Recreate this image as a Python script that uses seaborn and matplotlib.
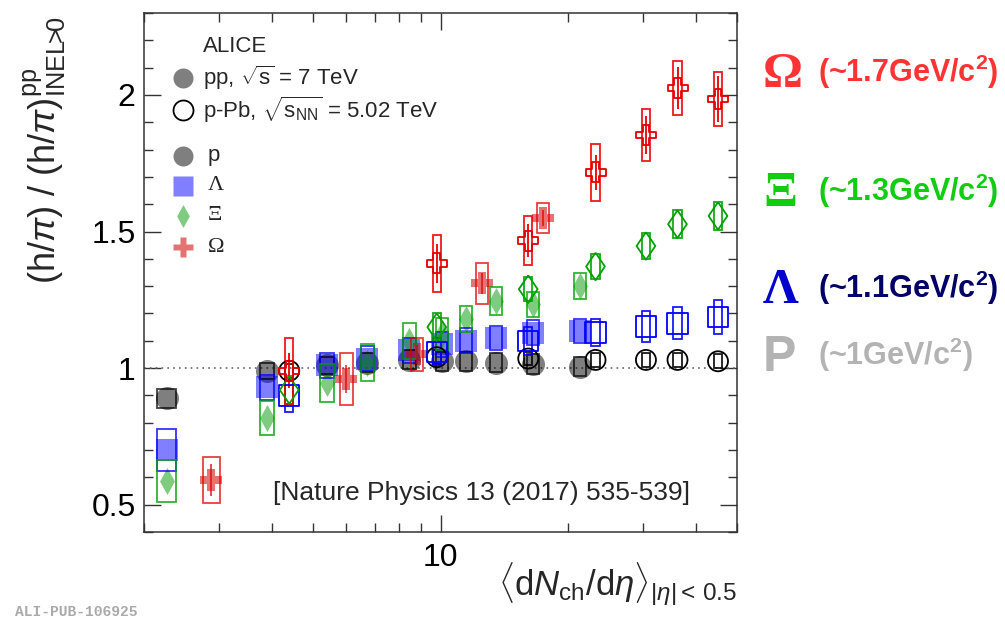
import numpy as np
import pandas as pd
import matplotlib
matplotlib.use("Agg")
import matplotlib.pyplot as plt
from matplotlib.patches import Rectangle
from matplotlib.ticker import FixedLocator, LogLocator, NullFormatter, MultipleLocator, FixedFormatter
import seaborn as sns

# ---------------- data ----------------
# pp, sqrt(s) = 7 TeV multiplicity classes
pp_mult = [2.26, 3.90, 5.40, 6.72, 8.45, 10.1, 11.5, 13.5, 16.5, 21.3]
pp_p = [0.89, 0.99, 1.01, 1.02, 1.03, 1.025, 1.025, 1.02, 1.015, 1.005]
pp_p_sys = [0.035, 0.03, 0.03, 0.035, 0.035, 0.035, 0.035, 0.035, 0.035, 0.035]
pp_lambda = [0.70, 0.93, 1.01, 1.035, 1.065, 1.087, 1.10, 1.11, 1.13, 1.136]
pp_lambda_sys = [0.076, 0.046, 0.045, 0.045, 0.045, 0.045, 0.045, 0.045, 0.045, 0.045]
pp_xi = [0.586, 0.818, 0.945, 1.02, 1.10, 1.125, 1.18, 1.245, 1.233, 1.30]
pp_xi_sys = [0.077, 0.063, 0.07, 0.069, 0.065, 0.058, 0.049, 0.052, 0.045, 0.048]
pp_omega_mult = [2.88, 6.0, 8.8, 12.5, 17.4]
pp_omega = [0.59, 0.96, 1.05, 1.31, 1.55]
pp_omega_stat = [0.06, 0.05, 0.035, 0.04, 0.03]
pp_omega_sys = [0.085, 0.095, 0.06, 0.076, 0.055]

# p-Pb, sqrt(s_NN) = 5.02 TeV multiplicity classes
ppb_mult = [4.4, 9.8, 16.1, 23.2, 30.5, 36.2, 45.1]
ppb_p = [0.99, 1.04, 1.035, 1.03, 1.03, 1.03, 1.025]
ppb_p_sys = [0.025, 0.025, 0.025, 0.025, 0.025, 0.025, 0.025]
ppb_lambda = [0.90, 1.06, 1.10, 1.13, 1.152, 1.164, 1.187]
ppb_lambda_sys = [0.06, 0.05, 0.052, 0.049, 0.057, 0.058, 0.061]
ppb_xi = [0.92, 1.15, 1.289, 1.372, 1.447, 1.527, 1.557]
ppb_xi_sys = [0.05, 0.05, 0.043, 0.046, 0.048, 0.05, 0.05]
ppb_omega = [0.99, 1.383, 1.466, 1.717, 1.853, 2.025, 1.985]
ppb_omega_stat = [0.064, 0.073, 0.06, 0.064, 0.07, 0.078, 0.085]
ppb_omega_sys = [0.12, 0.105, 0.09, 0.104, 0.096, 0.10, 0.098]

y_ticks = [0.5, 1.0, 1.5, 2.0]
y_tick_labels = ["0.5", "1", "1.5", "2"]
x_ticks = [10]
x_tick_labels = ["10"]

mass_glyphs = ["\u03a9", "\u039e", "\u039b", "P"]
mass_texts = [r"(~1.7GeV/c$^{\mathbf{2}}$)", r"(~1.3GeV/c$^{\mathbf{2}}$)",
              r"(~1.1GeV/c$^{\mathbf{2}}$)", r"(~1GeV/c$^{\mathbf{2}}$)"]

# ---------------- style ----------------
sns.set_theme(style="ticks")
plt.rcParams["font.family"] = ["Liberation Sans", "DejaVu Sans"]
plt.rcParams["mathtext.fontset"] = "custom"
plt.rcParams["mathtext.rm"] = "Liberation Sans"
plt.rcParams["mathtext.it"] = "Liberation Sans:italic"
plt.rcParams["mathtext.bf"] = "Liberation Sans:bold"

W, H = 1005, 624
fig = plt.figure(figsize=(W / 100, H / 100), dpi=100)
fig.patch.set_facecolor("white")
L, R, T, B = 144, 737, 13, 532
ax = fig.add_axes([L / W, 1 - B / H, (R - L) / W, (B - T) / H])
ax.set_facecolor("white")
ax.set_xscale("log")
ax.set_xlim(2, 50)
ax.set_ylim(0.4, 2.3)

# diamond markers (thin for filled, wider for open)
diamond_thin = [(0, 1), (0.55, 0), (0, -1), (-0.55, 0), (0, 1)]
diamond_wide = [(0, 1), (0.68, 0), (0, -1), (-0.68, 0), (0, 1)]
MS = 14.4  # marker size in points

species = {
    "p": dict(marker="o", ms=MS * 1.15, open_marker="o", open_ms=MS,
              fill="black", fill_a=0.5, edge="black"),
    "lambda": dict(marker="s", ms=MS * 1.1, open_marker="s", open_ms=MS * 1.02,
                   fill="#0000ff", fill_a=0.5, edge="#0000ff"),
    "xi": dict(marker=diamond_thin, ms=MS * 1.35, open_marker=diamond_wide,
               open_ms=MS * 1.38, fill="#009900", fill_a=0.5, edge="#00a000"),
    "omega": dict(marker="P", ms=MS * 1.1, open_marker="P", open_ms=MS,
                  fill="#d00000", fill_a=0.55, edge="#e00000"),
}


def pp_halfwidth(x):
    # half width of the pp systematic boxes, in decades
    return 0.014 + 0.0095 * (2.26 / x) ** 2


def ppb_halfwidth(x):
    return 0.0100


def draw_boxes(xs, ys, sys, color, hw_fn, alpha, lw=1.3):
    for x, y, s in zip(xs, ys, sys):
        hw = hw_fn(x)
        x0, x1 = x * 10 ** (-hw), x * 10 ** hw
        ax.add_patch(Rectangle((x0, y - s), x1 - x0, 2 * s, fill=False,
                               edgecolor=color, alpha=alpha, lw=lw, zorder=4))


def draw_points(xs, ys, st, filled):
    df = pd.DataFrame({"x": xs, "y": ys})
    if filled:
        sns.scatterplot(data=df, x="x", y="y", ax=ax, marker=st["marker"],
                        s=st["ms"] ** 2, color=st["fill"], alpha=st["fill_a"],
                        linewidth=0, legend=False, zorder=3)
    else:
        sns.scatterplot(data=df, x="x", y="y", ax=ax, marker=st["open_marker"],
                        s=st["open_ms"] ** 2, facecolors="none",
                        edgecolor=st["edge"], linewidth=1.3, legend=False,
                        zorder=5)


# dotted reference line at unity
ax.axhline(1.0, color="0.4", ls=(0, (1, 2.5)), lw=1.2, zorder=1)

# protons
draw_points(pp_mult, pp_p, species["p"], True)
draw_boxes(pp_mult, pp_p, pp_p_sys, "black", pp_halfwidth, 0.75)
draw_points(ppb_mult, ppb_p, species["p"], False)
draw_boxes(ppb_mult, ppb_p, ppb_p_sys, "black", ppb_halfwidth, 0.9)

# Lambda
draw_points(pp_mult, pp_lambda, species["lambda"], True)
draw_boxes(pp_mult, pp_lambda, pp_lambda_sys, "#0000ff", pp_halfwidth, 0.8)
draw_points(ppb_mult, ppb_lambda, species["lambda"], False)
draw_boxes(ppb_mult, ppb_lambda, ppb_lambda_sys, "#0000ff", ppb_halfwidth, 0.9)

# Xi
draw_points(pp_mult, pp_xi, species["xi"], True)
draw_boxes(pp_mult, pp_xi, pp_xi_sys, "#00a000", pp_halfwidth, 0.8)
draw_points(ppb_mult, ppb_xi, species["xi"], False)
draw_boxes(ppb_mult, ppb_xi, ppb_xi_sys, "#00a000", ppb_halfwidth, 0.9)

# Omega
draw_points(pp_omega_mult, pp_omega, species["omega"], True)
draw_boxes(pp_omega_mult, pp_omega, pp_omega_sys, "#e00000", pp_halfwidth, 0.75)
ax.errorbar(pp_omega_mult, pp_omega, yerr=pp_omega_stat, fmt="none",
            ecolor="#e00000", elinewidth=1.3, alpha=0.75, capsize=0, zorder=4)
draw_points(ppb_mult, ppb_omega, species["omega"], False)
draw_boxes(ppb_mult, ppb_omega, ppb_omega_sys, "#ee0000", ppb_halfwidth, 0.9)
ax.errorbar(ppb_mult, ppb_omega, yerr=ppb_omega_stat, fmt="none",
            ecolor="#ee0000", elinewidth=1.3, capsize=0, zorder=4)

# ---------------- axes ----------------
ax.xaxis.set_major_locator(FixedLocator(x_ticks))
ax.xaxis.set_major_formatter(FixedFormatter(x_tick_labels))
ax.xaxis.set_minor_locator(LogLocator(base=10, subs=np.arange(2, 10)))
ax.xaxis.set_minor_formatter(NullFormatter())
ax.yaxis.set_major_locator(FixedLocator(y_ticks))
ax.yaxis.set_major_formatter(FixedFormatter(y_tick_labels))
ax.yaxis.set_minor_locator(MultipleLocator(0.1))
ax.tick_params(which="both", direction="in", top=True, right=True,
               colors="#333333", labelcolor="black")
ax.tick_params(which="major", length=12, width=1.0, labelsize=23)
ax.tick_params(which="minor", length=6.5, width=1.0)
ax.tick_params(axis="y", which="major", pad=6)
ax.tick_params(axis="x", which="major", pad=8)
for sp in ax.spines.values():
    sp.set_visible(True)
    sp.set_color("#333333")
    sp.set_linewidth(1.1)
ax.set_xlabel("")
ax.set_ylabel("")

fig.text(45 / W, 1 - 150 / H,
         r"(h/$\pi$) / (h/$\pi$)$^{\rm pp}_{\rm INEL\!\!>\!\!0}$",
         rotation=90, ha="center", va="center", fontsize=26)
fig.text(737 / W, 1 - 584 / H,
         r"$\langle{\rm d}N_{\rm ch}/{\rm d}\eta\rangle_{|\eta|<\,0.5}$",
         ha="right", va="center", fontsize=25)


# ---------------- legend ----------------
def fx(px):
    return (px - L) / (R - L)


def fy(py):
    return (B - py) / (B - T)


ax.text(fx(203), fy(47), "ALICE", transform=ax.transAxes, fontsize=16,
        ha="left", va="center")
ax.plot([fx(183)], [fy(78)], transform=ax.transAxes, marker="o", ms=MS,
        color="black", alpha=0.5, mec="none", ls="none")
ax.text(fx(203), fy(78), r"pp, $\sqrt{\rm s}$ = 7 TeV", transform=ax.transAxes,
        fontsize=16, ha="left", va="center")
ax.plot([fx(183)], [fy(110)], transform=ax.transAxes, marker="o", ms=MS,
        mfc="none", mec="black", mew=1.3, ls="none")
ax.text(fx(203), fy(110), r"p-Pb, $\sqrt{\rm s_{NN}}$ = 5.02 TeV",
        transform=ax.transAxes, fontsize=16, ha="left", va="center")

leg_rows = [
    ("p", "p", 156, "Liberation Sans"),
    ("lambda", "\u039b", 186, "Liberation Serif"),
    ("xi", "\u039e", 216, "Liberation Serif"),
    ("omega", "\u03a9", 247, "Liberation Serif"),
]
for key, label, py, fam in leg_rows:
    st = species[key]
    ax.plot([fx(183)], [fy(py)], transform=ax.transAxes, marker=st["marker"],
            ms=MS if key != "xi" else MS * 1.15, color=st["fill"],
            alpha=st["fill_a"], mec="none", ls="none")
    ax.text(fx(208), fy(py), label, transform=ax.transAxes, fontsize=16,
            ha="left", va="center", family=fam)

ax.text(fx(481), fy(493), "[Nature Physics 13 (2017) 535-539]",
        transform=ax.transAxes, fontsize=19, ha="center", va="center")

# ---------------- mass labels on the right ----------------
glyph_colors = ["#ff3333", "#11cc11", "#0000cc", "#b3b3b3"]
text_colors = ["#ff3333", "#11cc11", "#000066", "#b3b3b3"]
rows_y = [72, 191, 288, 355]
for g, t, gc, tc, py in zip(mass_glyphs, mass_texts, glyph_colors, text_colors, rows_y):
    fam = "Liberation Sans" if g == "P" else "Liberation Serif"
    fig.text(763 / W, 1 - (py + 3) / H, g, fontsize=36, fontweight="bold",
             color=gc, ha="left", va="center", family=fam)
    fig.text(818 / W, 1 - py / H, t, fontsize=22, fontweight="bold",
             color=tc, ha="left", va="center")

fig.text(15 / W, 1 - 612 / H, "ALI-PUB-106925", fontsize=10.5,
         fontweight="bold", color="#aaaaaa", family="Liberation Mono",
         ha="left", va="center")

fig.savefig("out.png", dpi=100)
